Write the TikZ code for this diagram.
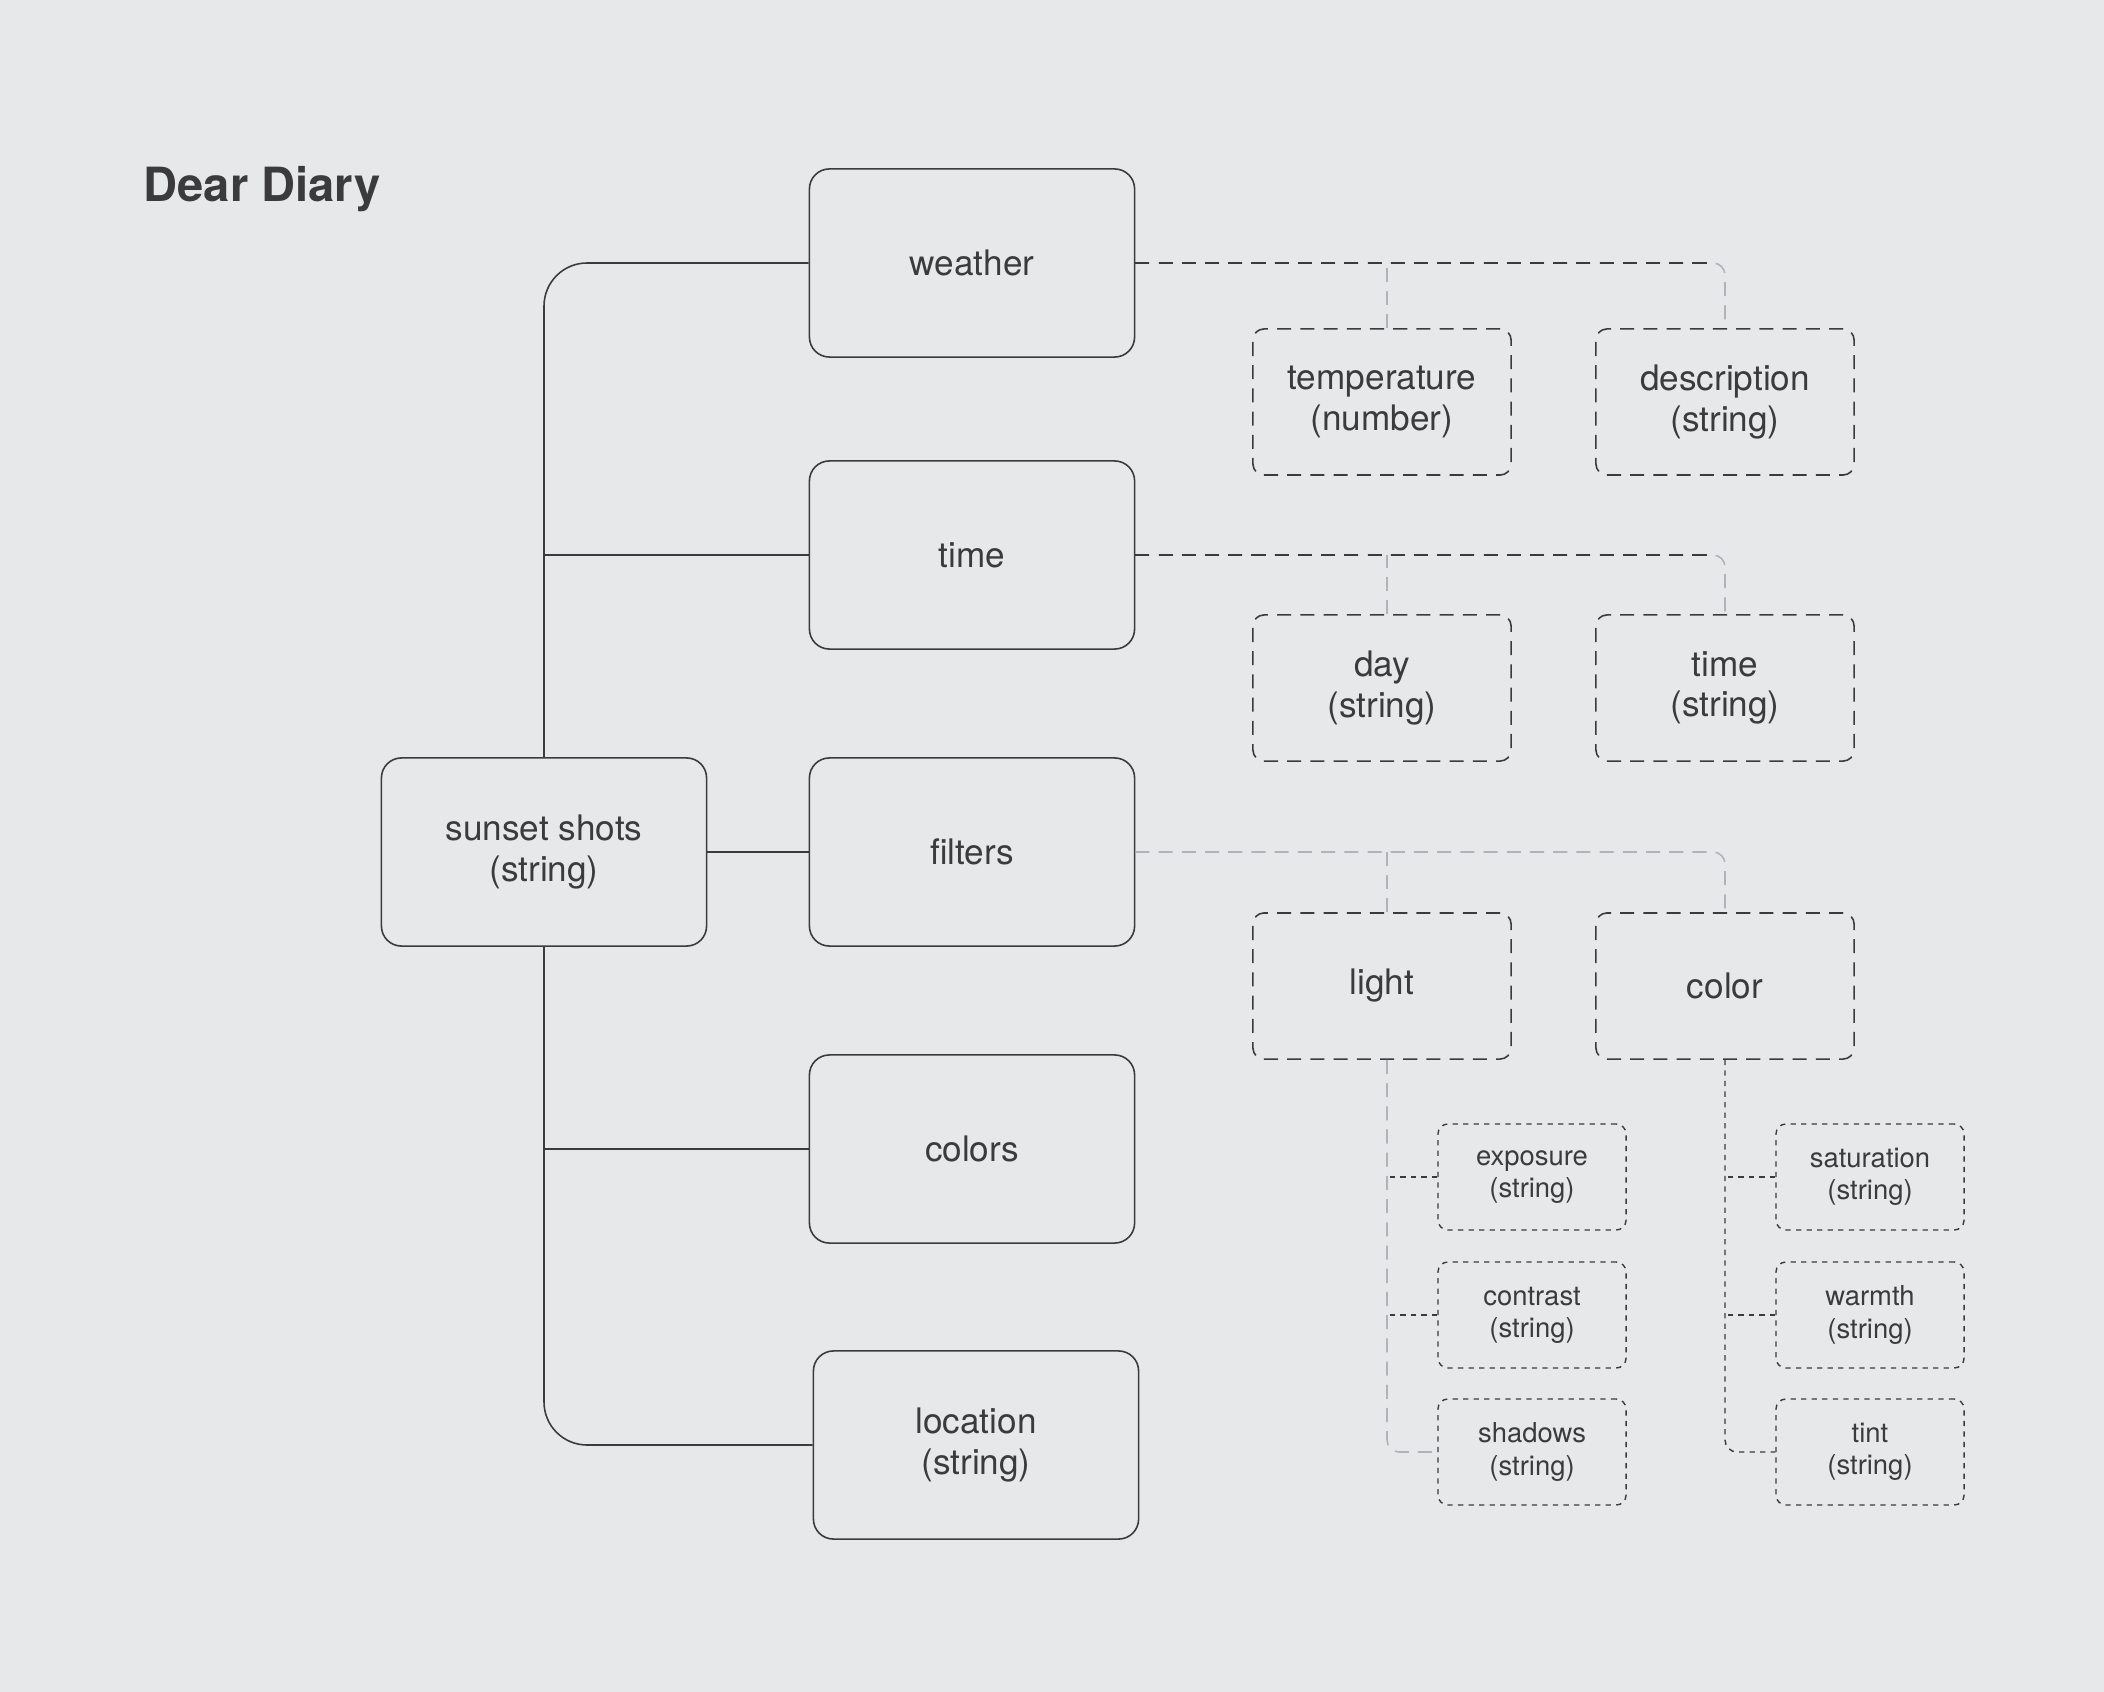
\documentclass[tikz,border=0pt]{standalone}
\usepackage{fontspec}
\setmainfont{TeX Gyre Heros}
\usetikzlibrary{calc}

\definecolor{paper}{HTML}{E7E8EA}
\definecolor{ink}{HTML}{3B3B3D}
\definecolor{faint}{HTML}{B2B3B6}

\tikzset{
    field/.style={draw=ink, line width=0.45pt, rounded corners=0.2cm, minimum width=3.25cm, minimum height=1.88cm,
        align=center, text=ink, font=\fontsize{10}{11.4}\selectfont},
    subfield/.style={draw=ink, line width=0.45pt, dash pattern=on 4pt off 2.6pt, rounded corners=0.11cm,
        minimum width=2.58cm, minimum height=1.46cm, align=center, text=ink, font=\fontsize{10}{11.4}\selectfont},
    leaf/.style={draw=ink, line width=0.4pt, dash pattern=on 1.5pt off 1.5pt, rounded corners=0.1cm,
        minimum width=1.88cm, minimum height=1.06cm, align=center, text=ink, font=\fontsize{7.8}{9.2}\selectfont},
    link/.style={draw=ink, line width=0.45pt},
    darklink/.style={draw=ink, line width=0.45pt, dash pattern=on 4pt off 2.6pt},
    greylink/.style={draw=faint, line width=0.45pt, dash pattern=on 4pt off 2.6pt},
    dotlink/.style={draw=ink, line width=0.4pt, dash pattern=on 1.5pt off 1.5pt},
}

\begin{document}
\begin{tikzpicture}[x=0.01cm, y=-0.01cm]

    % Page
    \fill[paper] (0,0) rectangle (2104,1692);
    \useasboundingbox (0,0) rectangle (2104,1692);

    % Title
    \node[anchor=base west, inner sep=0, text=ink, font=\bfseries\fontsize{13.4}{16}\selectfont] (title) at (143,202) {Dear Diary};

    % Root and fields
    \node[field] (sunset) at (544,852) {sunset shots\\(string)};
    \node[field] (weather) at (972,263) {weather};
    \node[field] (time) at (972,555) {time};
    \node[field] (filters) at (972,852) {filters};
    \node[field] (colors) at (972,1149) {colors};
    \node[field] (location) at (976,1445) {location\\(string)};

    % Sub fields
    \node[subfield] (temperature) at (1382,402) {temperature\\(number)};
    \node[subfield] (description) at (1725,402) {description\\(string)};
    \node[subfield] (day) at (1382,688) {day\\(string)};
    \node[subfield] (clock) at (1725,688) {time\\(string)};
    \node[subfield] (light) at (1382,986) {light};
    \node[subfield] (color) at (1725,986) {color};

    % Leaves
    \node[leaf] (exposure) at (1532,1177) {exposure\\(string)};
    \node[leaf] (contrast) at (1532,1315) {contrast\\(string)};
    \node[leaf] (shadows) at (1532,1452) {shadows\\(string)};
    \node[leaf] (saturation) at (1870,1177) {saturation\\(string)};
    \node[leaf] (warmth) at (1870,1315) {warmth\\(string)};
    \node[leaf] (tint) at (1870,1452) {tint\\(string)};

    % Tap points, a little right of the box centres
    \coordinate (temptap) at ($(temperature.north)+(5,0)$);
    \coordinate (daytap) at ($(day.north)+(5,0)$);
    \coordinate (lighttop) at ($(light.north)+(5,0)$);
    \coordinate (lightfoot) at ($(light.south)+(5,0)$);

    % Trunk
    \draw[link, rounded corners=0.43cm] (weather.west) -| (sunset.north);
    \draw[link, rounded corners=0.43cm] (location.west) -| (sunset.south);
    \draw[link] (time.west) -- (time.west -| sunset.north);
    \draw[link] (colors.west) -- (colors.west -| sunset.south);
    \draw[link] (sunset.east) -- (filters.west);

    % Weather, time, filters branches
    \draw[greylink, rounded corners=0.12cm] (weather.east) -| (description.north);
    \draw[darklink] (weather.east) -- ($(weather.east -| description.north)+(-14,0)$);
    \draw[greylink] (temptap) -- (temptap |- weather.east);
    \draw[greylink, rounded corners=0.12cm] (time.east) -| (clock.north);
    \draw[darklink] (time.east) -- ($(time.east -| clock.north)+(-14,0)$);
    \draw[greylink] (daytap) -- (daytap |- time.east);
    \draw[greylink, rounded corners=0.12cm] (filters.east) -| (color.north);
    \draw[greylink] (lighttop) -- (lighttop |- filters.east);

    % Light and color branches
    \draw[greylink, rounded corners=0.12cm] (lightfoot) |- (shadows.west);
    \draw[dotlink] (exposure.west) -- (exposure.west -| lightfoot);
    \draw[dotlink] (contrast.west) -- (contrast.west -| lightfoot);
    \draw[dotlink, rounded corners=0.12cm] (color.south) |- (tint.west);
    \draw[dotlink] (saturation.west) -- (saturation.west -| color.south);
    \draw[dotlink] (warmth.west) -- (warmth.west -| color.south);

\end{tikzpicture}
\end{document}
